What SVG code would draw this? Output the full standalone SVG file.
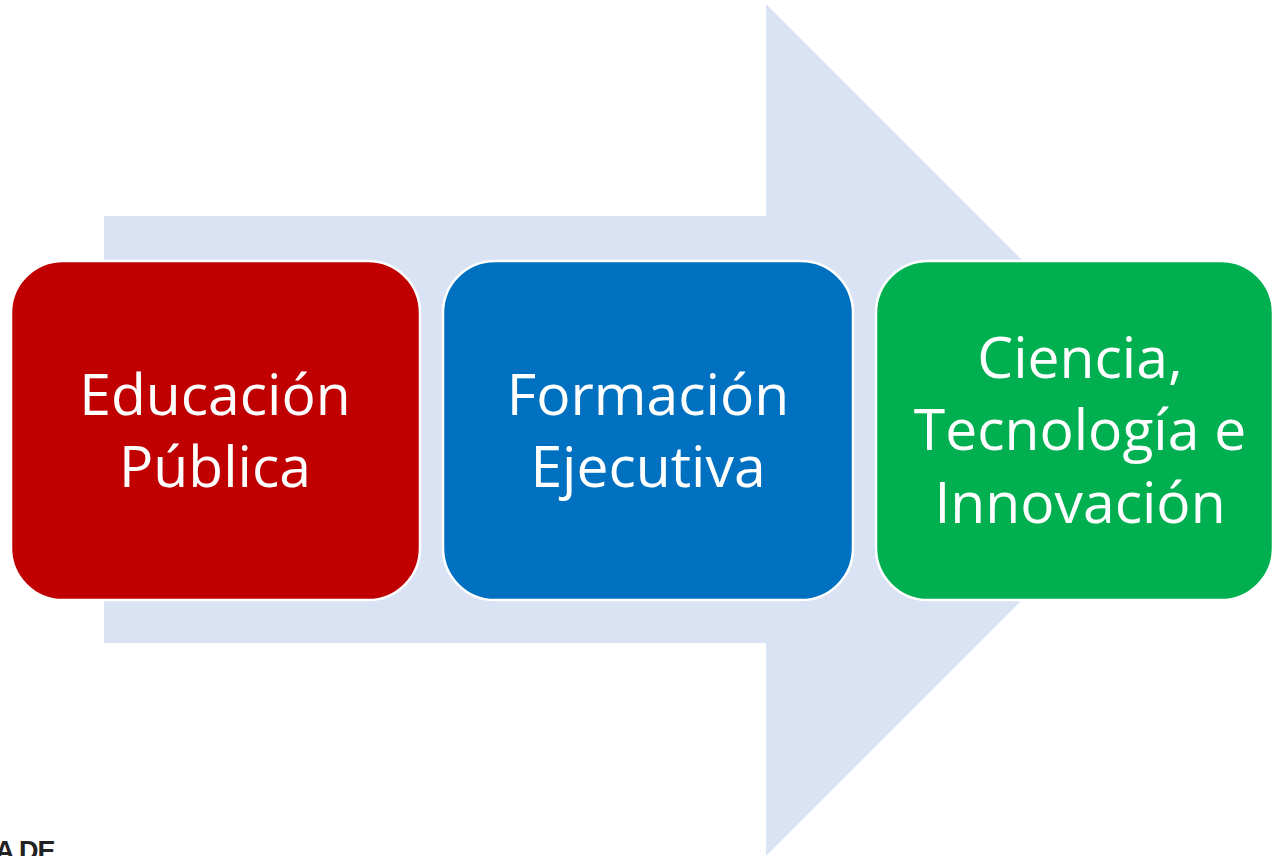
<svg xmlns="http://www.w3.org/2000/svg" width="1274" height="856" viewBox="0 0 1274 856">
<style>
.box{stroke:#ffffff;stroke-width:2.5}
.lbl{font-family:"Open Sans","Noto Sans",sans-serif;font-size:57px;fill:#ffffff;text-anchor:middle}
</style>
<rect width="1274" height="856" fill="#ffffff"/>
<g id="arrow">
<polygon points="104,216 766,216 766,4 1192,430 766,856 766,643 104,643" fill="#dae3f3"/>
</g>
<g id="node-educacion">
<rect class="box" x="11" y="261" width="409" height="339" rx="52" fill="#c00000"/>
<text class="lbl" x="215" y="415">Educación</text>
<text class="lbl" x="215" y="487">Pública</text>
</g>
<g id="node-formacion">
<rect class="box" x="443" y="261" width="410" height="339" rx="52" fill="#0070c0"/>
<text class="lbl" x="648" y="415">Formación</text>
<text class="lbl" x="648" y="487">Ejecutiva</text>
</g>
<g id="node-ciencia">
<rect class="box" x="876" y="261" width="397" height="339" rx="52" fill="#00b050"/>
<text class="lbl" x="1080" y="378">Ciencia,</text>
<text class="lbl" x="1080" y="450">Tecnología e</text>
<text class="lbl" x="1080" y="523">Innovación</text>
</g>
<g id="connectors"></g>
<text x="-5" y="860" font-family="'Liberation Sans',Arial,sans-serif" font-weight="bold" font-size="27" letter-spacing="-1" fill="#222222">A DE</text>
</svg>
